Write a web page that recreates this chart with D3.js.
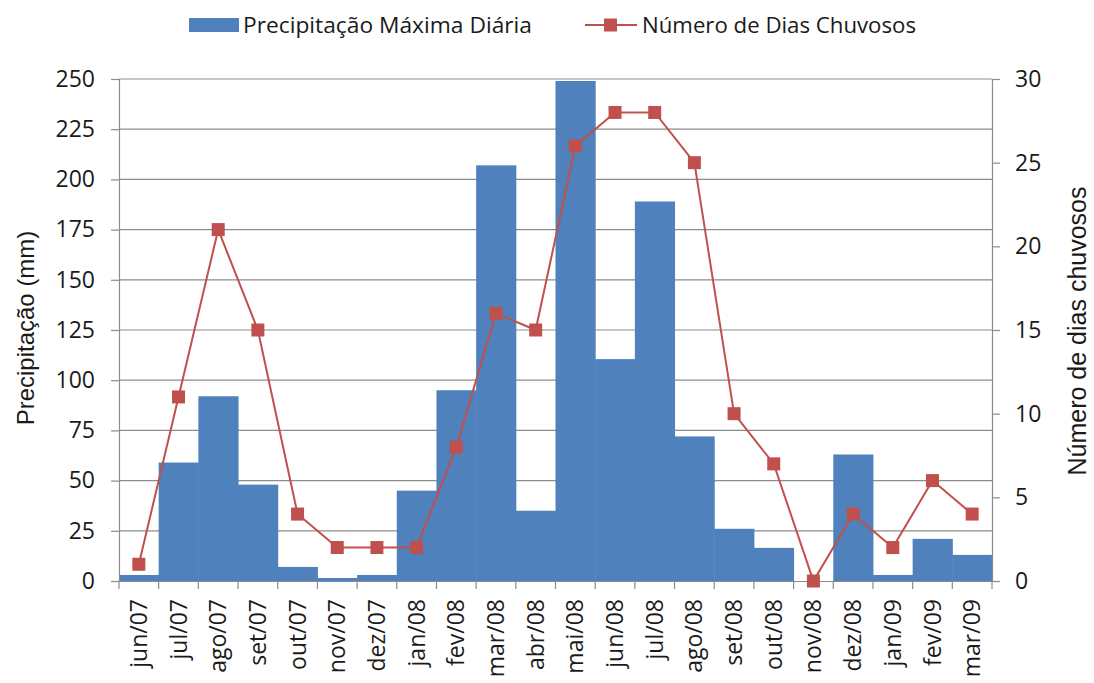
<!DOCTYPE html>
<html><head><meta charset="utf-8">
<script src="https://cdn.jsdelivr.net/npm/d3@7"></script>
<style>body{margin:0;background:#fff}svg{display:block}text{font-family:"Open Sans",sans-serif;fill:#1a1a1a}</style>
</head><body>
<script>
const categories = ["jun/07","jul/07","ago/07","set/07","out/07","nov/07","dez/07","jan/08","fev/08","mar/08","abr/08","mai/08","jun/08","jul/08","ago/08","set/08","out/08","nov/08","dez/08","jan/09","fev/09","mar/09"];
const precipMax = [3,59,92,48,7,1.5,3,45,95,207,35,249,110.5,189,72,26,16.5,0,63,3,21,13];
const diasChuvosos = [1,11,21,15,4,2,2,2,8,16,15,26,28,28,25,10,7,0,4,2,6,4];
const leftTicks = [0,25,50,75,100,125,150,175,200,225,250];
const rightTicks = [0,5,10,15,20,25,30];

const W=1094,H=683;
const m={l:119,r:992,t:79,b:581};
const svg=d3.select("body").append("svg").attr("width",W).attr("height",H);
const x=d3.scaleBand().domain(categories).range([m.l,m.r]).padding(0);
const yL=d3.scaleLinear().domain([0,250]).range([m.b,m.t]);
const yR=d3.scaleLinear().domain([0,30]).range([m.b,m.t]);
const gridC="#8c8c8c";

// gridlines
svg.append("g").selectAll("line").data(leftTicks.slice(1)).join("line")
 .attr("x1",m.l).attr("x2",m.r).attr("y1",d=>yL(d)).attr("y2",d=>yL(d))
 .attr("stroke",gridC).attr("stroke-width",1.2);

// bars
svg.append("g").selectAll("rect").data(categories).join("rect")
 .attr("x",d=>x(d)).attr("width",x.bandwidth()+0.5)
 .attr("y",(d,i)=>yL(precipMax[i])).attr("height",(d,i)=>yL(0)-yL(precipMax[i]))
 .attr("fill","#4f81bd");

// axes
const gl=svg.append("g").attr("transform",`translate(${m.l},0)`)
 .call(d3.axisLeft(yL).tickValues(leftTicks).tickSize(8).tickPadding(16));
const gr=svg.append("g").attr("transform",`translate(${m.r},0)`)
 .call(d3.axisRight(yR).tickValues(rightTicks).tickSize(8).tickPadding(15));
const gb=svg.append("g").attr("transform",`translate(0,${m.b})`)
 .call(d3.axisBottom(x).tickSize(0).tickFormat(""));
[gl,gr].forEach(g=>{g.select(".domain").attr("stroke",gridC).attr("stroke-width",1.2);
 g.selectAll(".tick line").attr("stroke",gridC).attr("stroke-width",1.2);
 g.selectAll("text").style("font-size","23px").attr("fill","#1a1a1a");});
gb.select(".domain").attr("stroke",gridC).attr("stroke-width",1.2);
// bottom tick marks at category boundaries
const bounds=categories.map(d=>x(d)).concat([m.r]);
svg.append("g").selectAll("line").data(bounds).join("line")
 .attr("x1",d=>d).attr("x2",d=>d).attr("y1",m.b).attr("y2",m.b+8)
 .attr("stroke",gridC).attr("stroke-width",1.2);
// x labels
svg.append("g").selectAll("text").data(categories).join("text")
 .attr("transform",d=>`translate(${x(d)+x.bandwidth()/2},599) rotate(-90)`)
 .attr("text-anchor","end").attr("dy","0.35em").style("font-size","23px").text(d=>d);

// line
const line=d3.line().x((d,i)=>x(categories[i])+x.bandwidth()/2).y(d=>yR(d));
svg.append("path").datum(diasChuvosos).attr("d",line).attr("fill","none")
 .attr("stroke","#c0504d").attr("stroke-width",2);
svg.append("g").selectAll("rect").data(diasChuvosos).join("rect")
 .attr("x",(d,i)=>x(categories[i])+x.bandwidth()/2-6.5).attr("y",d=>yR(d)-6.5)
 .attr("width",13).attr("height",13).attr("fill","#c0504d");

// axis titles
svg.append("text").attr("transform",`translate(34,328) rotate(-90)`)
 .attr("text-anchor","middle").style("font-family","'Liberation Sans',Arial,sans-serif").style("font-size","24px").text("Precipitação (mm)");
svg.append("text").attr("transform",`translate(1086,331) rotate(-90)`)
 .attr("text-anchor","middle").style("font-family","'Liberation Sans',Arial,sans-serif").style("font-size","25px").text("Número de dias chuvosos");

// legend
const lg=svg.append("g");
lg.append("rect").attr("x",189).attr("y",18).attr("width",50).attr("height",14).attr("fill","#4f81bd");
lg.append("text").attr("x",243).attr("y",33).style("font-size","22px").attr("textLength",289).attr("lengthAdjust","spacingAndGlyphs").text("Precipitação Máxima Diária");
lg.append("line").attr("x1",585).attr("x2",637).attr("y1",25).attr("y2",25).attr("stroke","#c0504d").attr("stroke-width",2);
lg.append("rect").attr("x",604).attr("y",18.5).attr("width",13).attr("height",13).attr("fill","#c0504d");
lg.append("text").attr("x",642).attr("y",33).style("font-size","22px").attr("textLength",274).attr("lengthAdjust","spacingAndGlyphs").text("Número de Dias Chuvosos");
</script>
</body></html>
